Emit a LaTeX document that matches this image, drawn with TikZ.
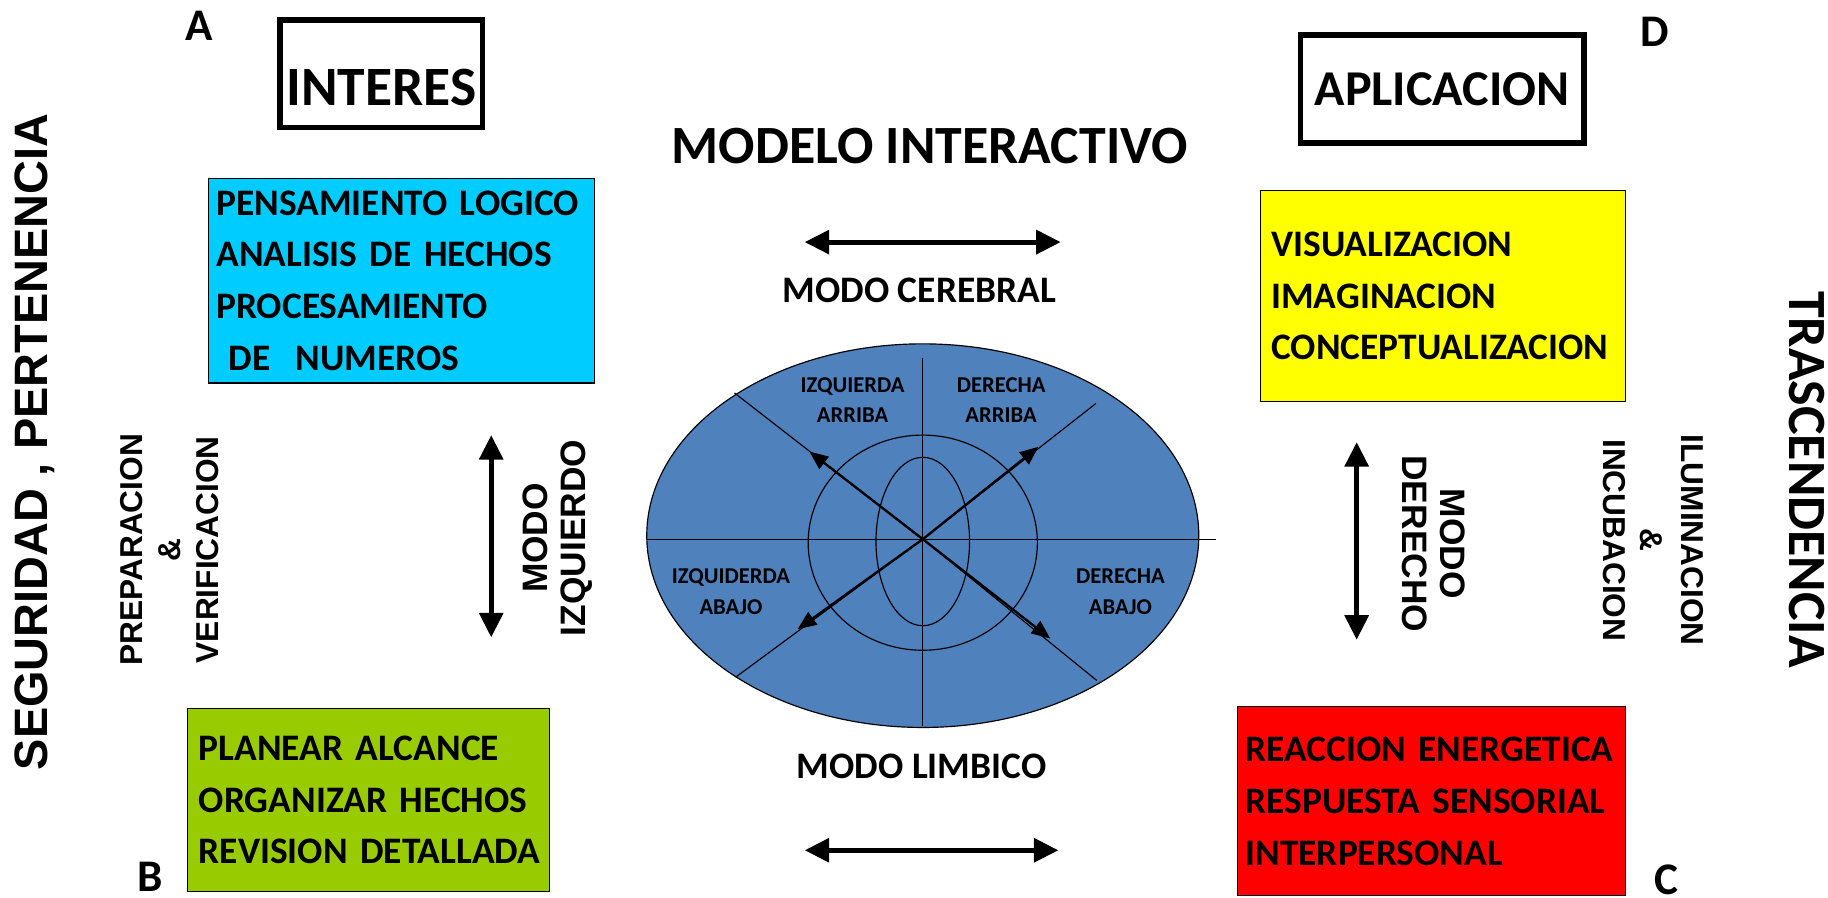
\documentclass[tikz,border=0pt]{standalone}
\usepackage{fontspec}
\setmainfont{Carlito}
\newfontfamily\arialfont{Liberation Sans}
\usetikzlibrary{arrows.meta}
\hyphenpenalty=10000
\hfuzz=20pt

\definecolor{ellblue}{HTML}{4F81BD}
\definecolor{boxcyan}{HTML}{00CCFF}
\definecolor{boxyellow}{HTML}{FFFF00}
\definecolor{boxred}{HTML}{FF0000}
\definecolor{boxgreen}{HTML}{99CC00}

\begin{document}
\begin{tikzpicture}[x=0.1mm, y=-0.1mm,
  title/.style={font=\bfseries\fontsize{13.1}{15}\selectfont},
  corner/.style={font=\bfseries\fontsize{11}{13}\selectfont},
  headbox/.style={draw, line width=0.5mm, inner sep=0pt},
  listbox/.style={draw, line width=0.3pt, inner sep=0pt, align=left, font=\bfseries\fontsize{9.1}{12.6}\selectfont},
  mode/.style={font=\bfseries\fontsize{9.1}{11}\selectfont},
  quad/.style={align=center, font=\bfseries\fontsize{5.5}{7.4}\selectfont},
  side/.style={align=center, font=\arialfont\bfseries\fontsize{8.6}{9.2}\selectfont},
  phase/.style={font=\arialfont\bfseries\fontsize{7.7}{9.2}\selectfont},
  bigarrow/.style={line width=0.43mm, {Triangle[length=2.1mm, width=2mm]}-{Triangle[length=2.1mm, width=2mm]}},
  ray/.style={line width=0.2mm, -{Triangle[length=1.6mm, width=1.3mm]}}]
  \useasboundingbox (0,0) rectangle (1563,767);

  % letras de los cuadrantes
  \node[corner] (la) at (170,22) {A};
  \node[corner] (ld) at (1415,27) {D};
  \node[corner] (lb) at (128,750) {B};
  \node[corner] (lc) at (1425,752) {C};

  % titulos
  \node[headbox, minimum width=17.3mm, minimum height=9.2mm, text height=5.4mm, text depth=0pt,
    font=\bfseries\fontsize{13.5}{15}\selectfont] (interes) at (326,63) {INTERES};
  \node[headbox, minimum width=24.2mm, minimum height=9.2mm,
    font=\bfseries\fontsize{12.2}{14}\selectfont] (aplic) at (1233,76) {APLICACION};
  \node[title] (modelo) at (795,125) {MODELO INTERACTIVO};

  % cajas de contenido
  \node[listbox, fill=boxcyan, minimum width=33mm, minimum height=17.5mm, text width=31.6mm] (logico) at (343,240)
    {PENSAMIENTO~LOGICO\\ANALISIS~DE~HECHOS\\PROCESAMIENTO\\\ DE\ \ NUMEROS};
  \node[listbox, fill=boxyellow, minimum width=31.2mm, minimum height=18mm, text width=29.4mm] (visual) at (1234,253)
    {VISUALIZACION\\IMAGINACION\\CONCEPTUALIZACION};
  \node[listbox, fill=boxgreen, minimum width=31mm, minimum height=15.7mm, text width=29mm] (planear) at (315,684)
    {PLANEAR~ALCANCE\\ORGANIZAR~HECHOS\\REVISION~DETALLADA};
  \node[listbox, fill=boxred, minimum width=33.2mm, minimum height=16.2mm, text width=31.8mm] (reaccion) at (1224,685)
    {REACCION~ENERGETICA\\RESPUESTA~SENSORIAL\\INTERPERSONAL};

  % modos
  \node[mode] (cerebral) at (786,248) {MODO CEREBRAL};
  \node[mode] (limbico) at (788,655) {MODO LIMBICO};
  \node[side, rotate=90] (izq) at (477,460) {MODO\\IZQUIERDO};
  \node[side, rotate=-90] (der) at (1226,465) {MODO\\DERECHO};

  % textos laterales
  \node[font=\arialfont\bfseries\fontsize{11.4}{13}\selectfont, rotate=90] (seguridad) at (30,378) {SEGURIDAD , PERTENENCIA};
  \node[phase, rotate=90, align=center] (prep) at (145,470) {PREPARACION\\\&\\VERIFICACION};
  \node[phase, rotate=-90] (incub) at (1380,462) {INCUBACION};
  \node[phase, rotate=-90] (amp) at (1412,462) {\&};
  \node[phase, rotate=-90] (ilum) at (1447,462) {ILUMINACION};
  \node[font=\bfseries\fontsize{13.1}{15}\selectfont, rotate=-90] (trasc) at (1545,410) {TRASCENDENCIA};

  % flechas dobles
  \coordinate (t1) at (688,207); \coordinate (t2) at (907,207);
  \coordinate (b1) at (688,727); \coordinate (b2) at (905,727);
  \coordinate (l1) at (420,372); \coordinate (l2) at (420,545);
  \coordinate (r1) at (1160,378); \coordinate (r2) at (1160,547);
  \draw[bigarrow] (t1) -- (t2);
  \draw[bigarrow] (b1) -- (b2);
  \draw[bigarrow] (l1) -- (l2);
  \draw[bigarrow] (r1) -- (r2);

  % cerebro
  \coordinate (c) at (789,461);
  \draw[fill=ellblue, line width=0.1mm] (789,458) ellipse (236 and 164);
  \draw[line width=0.1mm] (789,464) ellipse (98 and 92);
  \draw[line width=0.1mm] (789,463) ellipse (40 and 72);
  \draw[line width=0.1mm] (789,306) -- (789,621);
  \draw[line width=0.1mm] (553,461) -- (1040,461);
  \draw[line width=0.1mm] (628,336) -- (c) -- (938,582);
  \draw[line width=0.1mm] (629,579) -- (c) -- (937,345);
  \coordinate (nw) at (692,386); \coordinate (ne) at (888,382);
  \coordinate (sw) at (682,538); \coordinate (se) at (898,546);
  \draw[ray] (c) -- (nw);
  \draw[ray] (c) -- (ne);
  \draw[ray] (c) -- (sw);
  \draw[ray] (c) -- (se);

  \node[quad] (izar) at (729,342) {IZQUIERDA\\ARRIBA};
  \node[quad] (dear) at (856,342) {DERECHA\\ARRIBA};
  \node[quad] (izab) at (625,506) {IZQUIDERDA\\ABAJO};
  \node[quad] (deab) at (958,506) {DERECHA\\ABAJO};
\end{tikzpicture}
\end{document}
